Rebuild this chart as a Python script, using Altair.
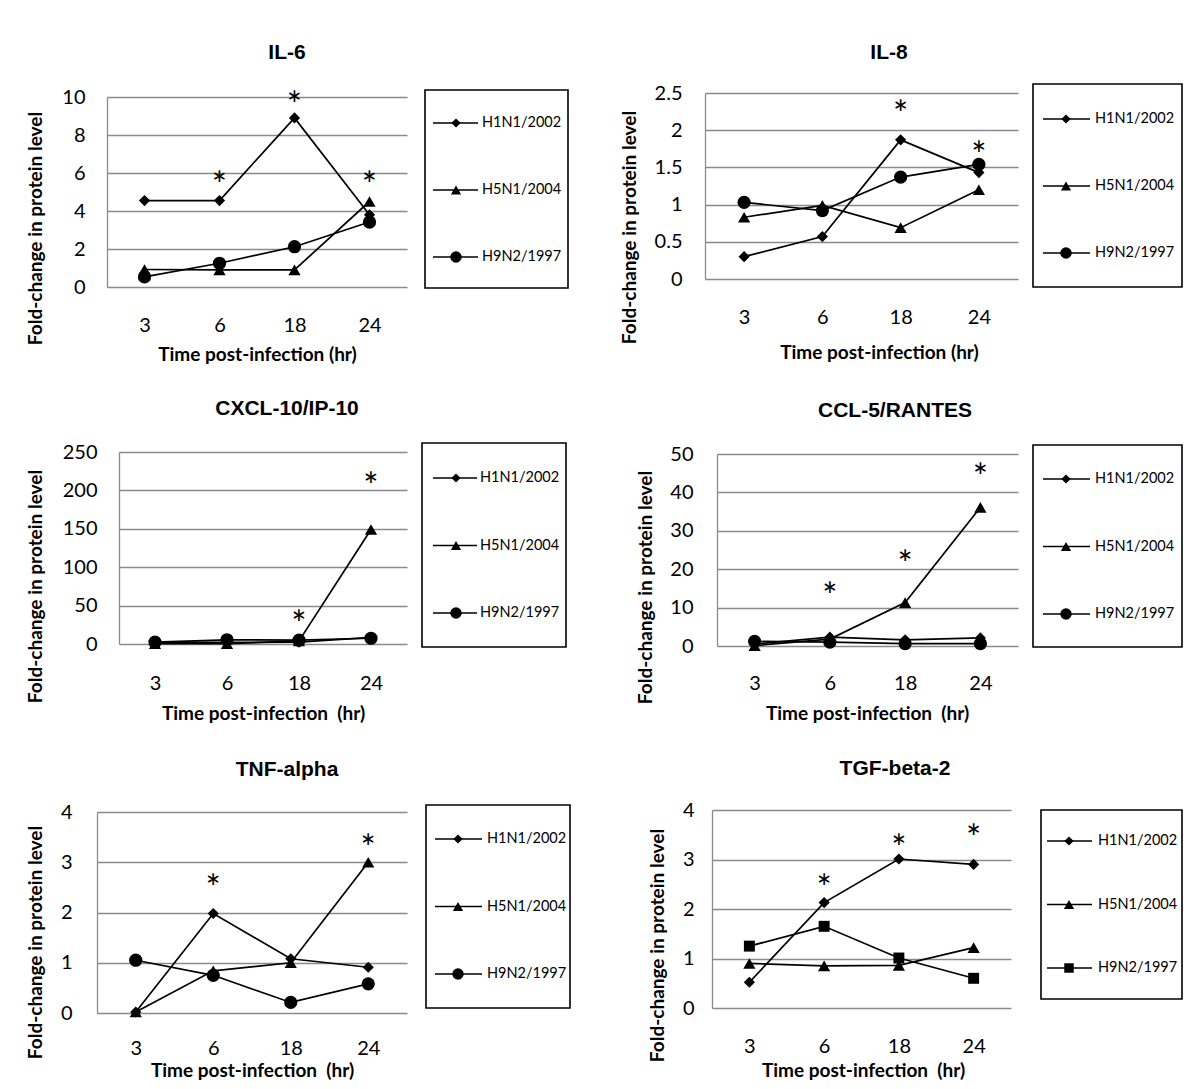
import altair as alt
import pandas as pd

# ---------------- data ----------------
times = ["3", "6", "18", "24"]
series = ["H1N1/2002", "H5N1/2004", "H9N2/1997"]

il6_h1n1 = [4.55, 4.55, 8.9, 3.8]
il6_h5n1 = [0.92, 0.9, 0.9, 4.5]
il6_h9n2 = [0.53, 1.25, 2.12, 3.42]
il6_star_t = ["6", "18", "24"]
il6_star_y = [5.8, 10.0, 5.8]
il6_ticks = [0, 2, 4, 6, 8, 10]

il8_h1n1 = [0.30, 0.57, 1.87, 1.43]
il8_h5n1 = [0.83, 0.99, 0.69, 1.20]
il8_h9n2 = [1.03, 0.92, 1.37, 1.54]
il8_star_t = ["18", "24"]
il8_star_y = [2.32, 1.77]
il8_ticks = [0, 0.5, 1, 1.5, 2, 2.5]

cxcl_h1n1 = [2.0, 2.0, 2.5, 8.5]
cxcl_h5n1 = [0.3, 0.3, 4.0, 149]
cxcl_h9n2 = [2.5, 5.5, 5.0, 7.5]
cxcl_star_t = ["18", "24"]
cxcl_star_y = [36, 216]
cxcl_ticks = [0, 50, 100, 150, 200, 250]

ccl5_h1n1 = [0.5, 2.3, 1.6, 2.1]
ccl5_h5n1 = [0.1, 1.8, 11.3, 36.1]
ccl5_h9n2 = [1.2, 1.0, 0.6, 0.6]
ccl5_star_t = ["6", "18", "24"]
ccl5_star_y = [15, 23.5, 46]
ccl5_ticks = [0, 10, 20, 30, 40, 50]

tnf_h1n1 = [0.02, 1.98, 1.08, 0.91]
tnf_h5n1 = [0.02, 0.84, 1.0, 3.0]
tnf_h9n2 = [1.05, 0.75, 0.21, 0.58]
tnf_star_t = ["6", "24"]
tnf_star_y = [2.64, 3.44]
tnf_ticks = [0, 1, 2, 3, 4]

tgf_h1n1 = [0.52, 2.13, 3.01, 2.90]
tgf_h5n1 = [0.90, 0.85, 0.86, 1.22]
tgf_h9n2 = [1.25, 1.65, 1.01, 0.60]
tgf_star_t = ["6", "18", "24"]
tgf_star_y = [2.59, 3.40, 3.60]
tgf_ticks = [0, 1, 2, 3, 4]

# ---------------- style / layout ----------------
FONT = "Lato"
TFONT = "Liberation Sans"
GRID = "#8a8a8a"
SIZE = {"diamond": 125, "triangle-up": 150, "circle": 175, "square": 120}
LSIZE = {"diamond": 85, "triangle-up": 105, "circle": 130, "square": 90}
XT1 = "Time post-infection (hr)"
XT2 = "Time post-infection\u00a0 (hr)"
YT = "Fold-change in protein level"
OX, OY = 8, 8          # page offset of the chart origin
WTOT, HTOT = 1176, 1060

# page coordinates: plot (L, T, W, H), title centre, y-label right edge, x-label centre y,
# x-title centre, y-title centre, legend box (x1, y1, x2, y2), first / last legend entry y,
# legend internals (line x1, line x2, marker x, text x)
panels = {
    "IL-6": dict(vals=[il6_h1n1, il6_h5n1, il6_h9n2], st=il6_star_t, sy=il6_star_y, ticks=il6_ticks,
                 m3="circle", xlabel=XT1, plot=(107, 97, 300, 190), title=(287, 53), ylab_r=85, xlab_y=325,
                 xtitle=(257, 354), ytitle=(35, 228), box=(425, 90, 568, 288), entries=(123, 257),
                 lx=(433, 478, 456, 482)),
    "IL-8": dict(vals=[il8_h1n1, il8_h5n1, il8_h9n2], st=il8_star_t, sy=il8_star_y, ticks=il8_ticks,
                 m3="circle", xlabel=XT1, plot=(705, 93, 313, 186), title=(889, 53), ylab_r=682, xlab_y=317,
                 xtitle=(879, 352), ytitle=(629, 227), box=(1033, 84, 1182, 287), entries=(119, 253),
                 lx=(1043, 1090, 1066, 1095)),
    "CXCL-10/IP-10": dict(vals=[cxcl_h1n1, cxcl_h5n1, cxcl_h9n2], st=cxcl_star_t, sy=cxcl_star_y,
                 ticks=cxcl_ticks, m3="circle", xlabel=XT2, plot=(119, 452, 288, 192), title=(287, 409),
                 ylab_r=97, xlab_y=683, xtitle=(263, 713), ytitle=(35, 586), box=(422, 443, 566, 647),
                 entries=(478, 613), lx=(433, 477, 456, 480)),
    "CCL-5/RANTES": dict(vals=[ccl5_h1n1, ccl5_h5n1, ccl5_h9n2], st=ccl5_star_t, sy=ccl5_star_y,
                 ticks=ccl5_ticks, m3="circle", xlabel=XT2, plot=(717, 454, 301, 192), title=(895, 411),
                 ylab_r=693, xlab_y=683, xtitle=(867, 713), ytitle=(645, 587), box=(1033, 445, 1182, 647),
                 entries=(479, 614), lx=(1043, 1090, 1066, 1095)),
    "TNF-alpha": dict(vals=[tnf_h1n1, tnf_h5n1, tnf_h9n2], st=tnf_star_t, sy=tnf_star_y, ticks=tnf_ticks,
                 m3="circle", xlabel=XT2, plot=(97, 812, 310, 201), title=(287, 770), ylab_r=72, xlab_y=1048,
                 xtitle=(252, 1070), ytitle=(35, 942), box=(426, 805, 570, 1008), entries=(839, 974),
                 lx=(435, 482, 458, 487)),
    "TGF-beta-2": dict(vals=[tgf_h1n1, tgf_h5n1, tgf_h9n2], st=tgf_star_t, sy=tgf_star_y, ticks=tgf_ticks,
                 m3="square", xlabel=XT2, plot=(712, 810, 299, 198), title=(895, 769), ylab_r=694, xlab_y=1046,
                 xtitle=(863, 1070), ytitle=(657, 945), box=(1041, 810, 1182, 999), entries=(841, 968),
                 lx=(1047, 1092, 1069, 1098)),
}


def make_panel(name, p):
    L, T, W, H = p["plot"]
    B = T + H
    shapes = {"H1N1/2002": "diamond", "H5N1/2004": "triangle-up", "H9N2/1997": p["m3"]}
    rows = []
    for s, vals in zip(series, p["vals"]):
        for i, (t, v) in enumerate(zip(times, vals)):
            rows.append({"time": t, "ti": i, "series": s, "value": v,
                         "shape": shapes[s], "size": SIZE[shapes[s]]})
    df = pd.DataFrame(rows)
    star_df = pd.DataFrame({"time": p["st"], "value": p["sy"]})

    xs = alt.Scale(type="point", domain=times, range=[L - OX, L - OX + W], padding=0.5)
    ys = alt.Scale(domain=[0, p["ticks"][-1]], range=[B - OY, T - OY], nice=False, zero=True)
    xaxis = alt.Axis(orient="bottom", offset=(B - OY) - HTOT, title=p["xlabel"], domain=False,
                     ticks=False, grid=False, labelAngle=0,
                     labelFont=FONT, labelFontSize=20, labelColor="black", labelBaseline="middle",
                     labelPadding=p["xlab_y"] - B,
                     titleFont=FONT, titleFontSize=19, titleFontWeight="bold", titleColor="black",
                     titleX=p["xtitle"][0] - OX, titleY=p["xtitle"][1] - B,
                     titleAlign="center", titleBaseline="middle")
    yaxis = alt.Axis(orient="left", offset=-(L - OX), title=YT, values=p["ticks"], format="~r",
                     domain=True, domainColor=GRID, domainWidth=1.3, ticks=False,
                     grid=True, gridColor=GRID, gridWidth=1.3,
                     labelFont=FONT, labelFontSize=20, labelColor="black", labelPadding=L - p["ylab_r"],
                     titleFont=FONT, titleFontSize=19, titleFontWeight="bold", titleColor="black",
                     titleX=p["ytitle"][0] - L, titleY=p["ytitle"][1] - OY, titleAngle=270,
                     titleAlign="center", titleBaseline="middle")
    X = alt.X("time:N", scale=xs, axis=xaxis)
    Y = alt.Y("value:Q", scale=ys, axis=yaxis)

    lines = alt.Chart(df).mark_line(color="black", strokeWidth=1.7).encode(
        x=X, y=Y, detail="series:N", order="ti:Q")
    pts = alt.Chart(df).mark_point(filled=True, color="black", opacity=1).encode(
        x=X, y=Y, shape=alt.Shape("shape:N", scale=None), size=alt.Size("size:Q", scale=None))
    stars = alt.Chart(star_df).mark_text(text="*", font=FONT, fontSize=36, dy=10, color="black").encode(
        x=X, y=Y)
    main = alt.layer(lines, pts, stars)

    bx1, by1, bx2, by2 = p["box"]
    e1, e3 = p["entries"]
    lx1, lx2, mx, tx = p["lx"]
    leg = pd.DataFrame({"series": series,
                        "shape": [shapes[s] for s in series],
                        "size": [LSIZE[shapes[s]] for s in series]})
    ly = alt.Y("series:N", scale=alt.Scale(type="point", domain=series, range=[e1 - OY, e3 - OY],
                                           padding=0), axis=None)
    one = pd.DataFrame({"label": [name]})
    box = alt.Chart(one).mark_rect(fillOpacity=0, stroke="black", strokeWidth=1.6).encode(
        x=alt.value(bx1 - OX), x2=alt.value(bx2 - OX), y=alt.value(by1 - OY), y2=alt.value(by2 - OY))
    rule = alt.Chart(leg).mark_rule(color="black", strokeWidth=1.7).encode(
        x=alt.value(lx1 - OX), x2=alt.value(lx2 - OX), y=ly)
    lpts = alt.Chart(leg).mark_point(filled=True, color="black", opacity=1).encode(
        x=alt.value(mx - OX), y=ly, shape=alt.Shape("shape:N", scale=None),
        size=alt.Size("size:Q", scale=None))
    ltxt = alt.Chart(leg).mark_text(align="left", baseline="middle", font=FONT, fontSize=14.5,
                                    color="black").encode(x=alt.value(tx - OX), y=ly, text="series:N")
    ttl = alt.Chart(one).mark_text(align="center", baseline="middle", font=TFONT, fontSize=21,
                                   fontWeight="bold", color="black").encode(
        x=alt.value(p["title"][0] - OX), y=alt.value(p["title"][1] - OY), text="label:N")
    legend = alt.layer(box, rule, lpts, ltxt, ttl)

    return alt.layer(main, legend).resolve_scale(y="independent")


chart = alt.layer(*[make_panel(n, p) for n, p in panels.items()]).resolve_scale(
    x="independent", y="independent").properties(width=WTOT, height=HTOT, padding=0).configure_view(
    stroke="transparent")

chart.save("out.html", embed_options={"renderer": "svg", "actions": False})
